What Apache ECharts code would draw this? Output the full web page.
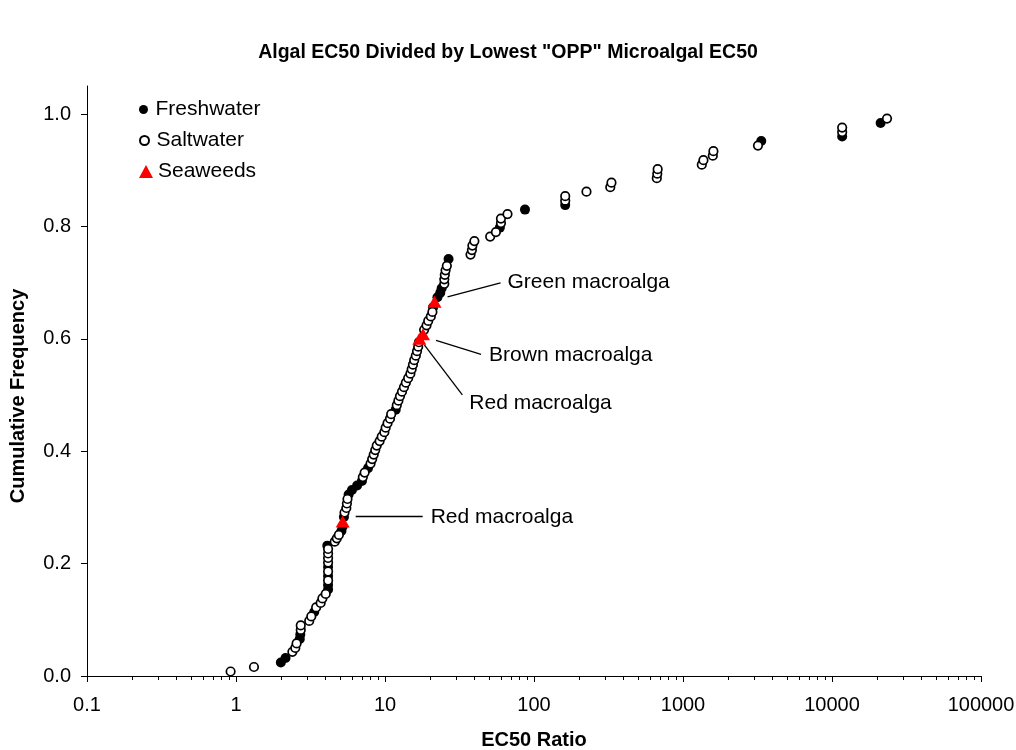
<!DOCTYPE html>
<html>
<head>
<meta charset="utf-8">
<title>Algal EC50 Divided by Lowest OPP Microalgal EC50</title>
<script src="https://cdn.jsdelivr.net/npm/echarts@6/dist/echarts.min.js"></script>
<style>
  html, body { margin: 0; padding: 0; background: #fff; }
  #chart { width: 1016px; height: 750px; }
</style>
</head>
<body>
<div id="chart"></div>
<script>
// freshwater species (filled circles)
const freshX = [2.0, 2.15, 2.68, 2.7, 3.35, 4.15, 4.15, 4.15, 4.15, 4.1, 5.1, 5.2, 5.3, 5.7, 6.0, 6.5, 7.0, 7.7,
  11.8, 21.0, 22.5, 23.5, 24.0, 26.7, 59, 87, 162, 3350, 11700, 21200];
const freshY = [0.024, 0.032, 0.066, 0.074, 0.114, 0.154, 0.162, 0.178, 0.194, 0.232, 0.258, 0.266, 0.283, 0.323, 0.331, 0.339, 0.347, 0.370,
  0.474, 0.656, 0.674, 0.682, 0.690, 0.742, 0.798, 0.830, 0.838, 0.952, 0.960, 0.984];

// saltwater species (open circles)
const saltX = [0.92, 1.32, 2.39, 2.5, 2.55, 2.72, 2.72, 3.1, 3.2, 3.45, 3.7, 3.8, 4.0, 4.15, 4.15, 4.15, 4.15, 4.15, 4.15,
  4.6, 4.75, 4.9, 5.35, 5.5, 5.55, 5.6, 7.1, 7.3, 8.0, 8.2, 8.4, 8.6, 8.8, 9.2, 9.5, 9.9, 10.1, 10.4, 10.8, 11.0,
  12.0, 12.3, 12.6, 13.0, 13.4, 13.8, 14.3, 14.8, 15.1, 15.4, 15.7, 16.1, 16.4, 16.7, 16.9, 18.3, 19.0, 19.5, 20.3, 20.8,
  25.0, 25.0, 25.2, 25.5, 26.0, 37.5, 38.3, 38.6, 39.8, 50.8, 55.5, 60, 60, 66.4, 162, 162, 225, 325, 331,
  667, 672, 676, 1337, 1371, 1585, 1600, 3185, 11700, 11700, 23400];
const saltY = [0.008, 0.016, 0.043, 0.050, 0.058, 0.082, 0.090, 0.098, 0.106, 0.122, 0.130, 0.138, 0.146, 0.170, 0.186, 0.202, 0.210, 0.218, 0.226,
  0.239, 0.245, 0.251, 0.291, 0.299, 0.307, 0.315, 0.354, 0.362, 0.378, 0.386, 0.394, 0.402, 0.410, 0.418, 0.426, 0.434, 0.442, 0.450, 0.458, 0.466,
  0.482, 0.490, 0.498, 0.506, 0.514, 0.522, 0.530, 0.538, 0.546, 0.554, 0.562, 0.570, 0.578, 0.586, 0.594, 0.616, 0.624, 0.632, 0.640, 0.648,
  0.698, 0.706, 0.714, 0.722, 0.730, 0.750, 0.758, 0.766, 0.774, 0.782, 0.790, 0.806, 0.814, 0.822, 0.846, 0.854, 0.862, 0.870, 0.878,
  0.886, 0.894, 0.902, 0.910, 0.918, 0.926, 0.934, 0.944, 0.968, 0.976, 0.992];

// seaweeds (red triangles) with their labels
const weedX = [5.2, 17.0, 18.0, 21.5];
const weedY = [0.275, 0.600, 0.608, 0.666];
const weedNames = ['Red macroalga', 'Red macroalga', 'Brown macroalga', 'Green macroalga'];

const xTickValues = [0.1, 1, 10, 100, 1000, 10000, 100000];
const yTickValues = [0, 0.2, 0.4, 0.6, 0.8, 1.0];

// leader line start/end and text position, relative to the triangle (px)
const noteOffsets = [
  [13, -5, 80, -5, 88, -4],
  [5, 6, 43, 56, 50, 64],
  [13, 6, 58, 20, 66, 21],
  [13, -5, 66, -19, 73, -20]
];

const font = 'Liberation Sans, Arial, sans-serif';
const pairs = (xs, ys) => xs.map((x, i) => [x, ys[i]]);

// log minor ticks 2..9 in each decade
const xMinorTicks = [];
xTickValues.slice(0, -1).forEach(d => {
  for (let k = 2; k <= 9; k++) xMinorTicks.push(+(d * k).toPrecision(3));
});

const chart = echarts.init(document.getElementById('chart'));

const legendBase = {
  orient: 'vertical',
  left: 139,
  padding: 0,
  itemWidth: 14,
  selectedMode: false,
  textStyle: { fontFamily: font, fontSize: 21, color: '#000' }
};

const option = {
  animation: false,
  backgroundColor: '#fff',
  title: {
    text: 'Algal EC50 Divided by Lowest "OPP" Microalgal EC50',
    left: 'center',
    top: 38,
    textStyle: { fontFamily: font, fontSize: 19.5, fontWeight: 'bold', color: '#000' }
  },
  grid: { left: 87, right: 35, top: 86, bottom: 74, containLabel: false, outerBoundsMode: 'none' },
  legend: [
    Object.assign({}, legendBase, { top: 99, itemHeight: 9, data: ['Freshwater'] }),
    Object.assign({}, legendBase, { top: 130, itemHeight: 9, data: ['Saltwater'] }),
    Object.assign({}, legendBase, { top: 161, itemHeight: 13, data: ['Seaweeds'] })
  ],
  xAxis: [
    {
      type: 'log',
      logBase: 10,
      min: 0.1,
      max: 100000,
      position: 'bottom',
      name: 'EC50 Ratio',
      nameLocation: 'middle',
      nameGap: 54,
      nameTextStyle: { fontFamily: font, fontSize: 20, fontWeight: 'bold', color: '#000' },
      axisLine: { show: true, onZero: false, lineStyle: { color: '#000', width: 1 } },
      axisTick: { show: true, inside: false, length: 6, customValues: xTickValues, lineStyle: { color: '#000' } },
      axisLabel: {
        customValues: xTickValues,
        margin: 19,
        fontFamily: font,
        fontSize: 20,
        color: '#000',
        formatter: v => (v >= 1 ? String(Math.round(v)) : String(+v.toFixed(1)))
      },
      splitLine: { show: false },
      minorTick: { show: false }
    },
    {
      type: 'log',
      logBase: 10,
      min: 0.1,
      max: 100000,
      position: 'bottom',
      axisLine: { show: false, onZero: false },
      axisTick: { show: true, inside: false, length: 4, customValues: xMinorTicks, lineStyle: { color: '#000' } },
      axisLabel: { show: false },
      splitLine: { show: false }
    }
  ],
  yAxis: {
    type: 'value',
    min: 0,
    max: 1.05,
    interval: 0.2,
    name: 'Cumulative Frequency',
    nameLocation: 'middle',
    nameGap: 59,
    nameTextStyle: { fontFamily: font, fontSize: 20, fontWeight: 'bold', color: '#000', padding: [0, 30, 0, 0] },
    axisLine: { show: true, lineStyle: { color: '#000', width: 1 } },
    axisTick: { show: true, inside: false, length: 6, customValues: yTickValues, lineStyle: { color: '#000' } },
    axisLabel: {
      customValues: yTickValues,
      margin: 16,
      fontFamily: font,
      fontSize: 20,
      color: '#000',
      formatter: v => v.toFixed(1)
    },
    splitLine: { show: false }
  },
  series: [
    {
      name: 'Freshwater',
      type: 'scatter',
      symbol: 'circle',
      symbolSize: 10,
      itemStyle: { color: '#000', opacity: 1 },
      emphasis: { disabled: true },
      data: pairs(freshX, freshY)
    },
    {
      name: 'Saltwater',
      type: 'scatter',
      symbol: 'circle',
      symbolSize: 8.5,
      itemStyle: { color: '#fff', borderColor: '#000', borderWidth: 1.7, opacity: 1 },
      emphasis: { disabled: true },
      data: pairs(saltX, saltY)
    },
    {
      name: 'Seaweeds',
      type: 'scatter',
      symbol: 'triangle',
      symbolSize: [14, 12],
      itemStyle: { color: '#ff0000', opacity: 1 },
      emphasis: { disabled: true },
      data: pairs(weedX, weedY)
    }
  ]
};

chart.setOption(option);

// leader lines + labels for the seaweeds, placed from the axis scales
const notes = [];
weedX.forEach((x, i) => {
  const p = chart.convertToPixel({ seriesIndex: 2 }, [x, weedY[i]]);
  const o = noteOffsets[i];
  notes.push({
    type: 'line',
    silent: true,
    shape: { x1: p[0] + o[0], y1: p[1] + o[1], x2: p[0] + o[2], y2: p[1] + o[3] },
    style: { stroke: '#000', lineWidth: 1.3 }
  });
  notes.push({
    type: 'text',
    silent: true,
    x: p[0] + o[4],
    y: p[1] + o[5],
    style: { text: weedNames[i], fontFamily: font, fontSize: 21, fill: '#000', align: 'left', verticalAlign: 'middle' }
  });
});
chart.setOption({ graphic: notes });
</script>
</body>
</html>
